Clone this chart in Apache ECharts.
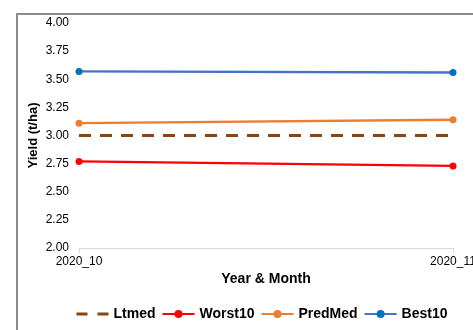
<!DOCTYPE html>
<html>
<head>
<meta charset="utf-8">
<script src="https://cdn.jsdelivr.net/npm/echarts@6/dist/echarts.min.js"></script>
<style>
html,body{margin:0;padding:0;background:#fff;}
#c{width:473px;height:330px;}
</style>
</head>
<body>
<div id="c"></div>
<script>
const categories = ['2020_10', '2020_11'];
const ltmed = [3.00, 3.00];
const worst10 = [2.77, 2.73];
const predMed = [3.11, 3.14];
const best10 = [3.57, 3.56];
const yTicks = { min: 2, max: 4, interval: 0.25 };

const font = 'Liberation Sans, Arial, sans-serif';
const chart = echarts.init(document.getElementById('c'));
chart.setOption({
  animation: false,
  backgroundColor: '#fff',
  graphic: [{
    type: 'polyline',
    shape: { points: [[17, 340], [17, 14], [480, 14]] },
    style: { stroke: '#8c8c8c', lineWidth: 2, fill: null },
    z: -1
  }],
  grid: { left: 79, right: 20, top: 23, bottom: 82, containLabel: false, outerBoundsMode: 'none' },
  legend: {
    left: 75, top: 307, padding: 0,
    itemWidth: 32, itemHeight: 10, itemGap: 6,
    textStyle: { fontFamily: font, fontWeight: 'bold', fontSize: 14, color: '#000' },
    data: [
      { name: 'Ltmed', itemStyle: { opacity: 0 }, lineStyle: { type: [11, 10], width: 3, color: '#8B4513' } },
      'Worst10', 'PredMed', 'Best10'
    ]
  },
  xAxis: {
    type: 'category',
    data: categories,
    boundaryGap: false,
    name: 'Year & Month',
    nameLocation: 'middle',
    nameGap: 24,
    nameMoveOverlap: false,
    nameTextStyle: { fontFamily: font, fontWeight: 'bold', fontSize: 14, color: '#000' },
    axisLine: { lineStyle: { color: '#d9d9d9', width: 1 } },
    axisTick: { show: true, length: 5, lineStyle: { color: '#d9d9d9' } },
    axisLabel: { fontFamily: font, fontSize: 12, color: '#000', margin: 8, hideOverlap: false },
    splitLine: { show: false }
  },
  yAxis: {
    type: 'value',
    min: yTicks.min, max: yTicks.max, interval: yTicks.interval,
    name: 'Yield (t/ha)',
    nameLocation: 'middle',
    nameGap: 39,
    nameMoveOverlap: false,
    nameTextStyle: { fontFamily: font, fontWeight: 'bold', fontSize: 13, color: '#000' },
    axisLine: { show: false },
    axisTick: { show: false },
    splitLine: { show: false },
    axisLabel: { fontFamily: font, fontSize: 12, color: '#000', margin: 10,
      formatter: v => v.toFixed(2) }
  },
  series: [
    { name: 'Ltmed', type: 'line', data: ltmed, symbol: 'none',
      lineStyle: { color: '#8B4513', width: 3, type: [12, 9] },
      itemStyle: { color: '#8B4513' } },
    { name: 'Worst10', type: 'line', data: worst10, symbol: 'circle', symbolSize: 7,
      lineStyle: { color: '#FF0000', width: 2.5 }, itemStyle: { color: '#FF0000' } },
    { name: 'PredMed', type: 'line', data: predMed, symbol: 'circle', symbolSize: 7,
      lineStyle: { color: '#ED7D31', width: 2.5 }, itemStyle: { color: '#ED7D31' } },
    { name: 'Best10', type: 'line', data: best10, symbol: 'circle', symbolSize: 7,
      lineStyle: { color: '#4472C4', width: 2.5 }, itemStyle: { color: '#0070C0' } }
  ]
});
</script>
</body>
</html>
